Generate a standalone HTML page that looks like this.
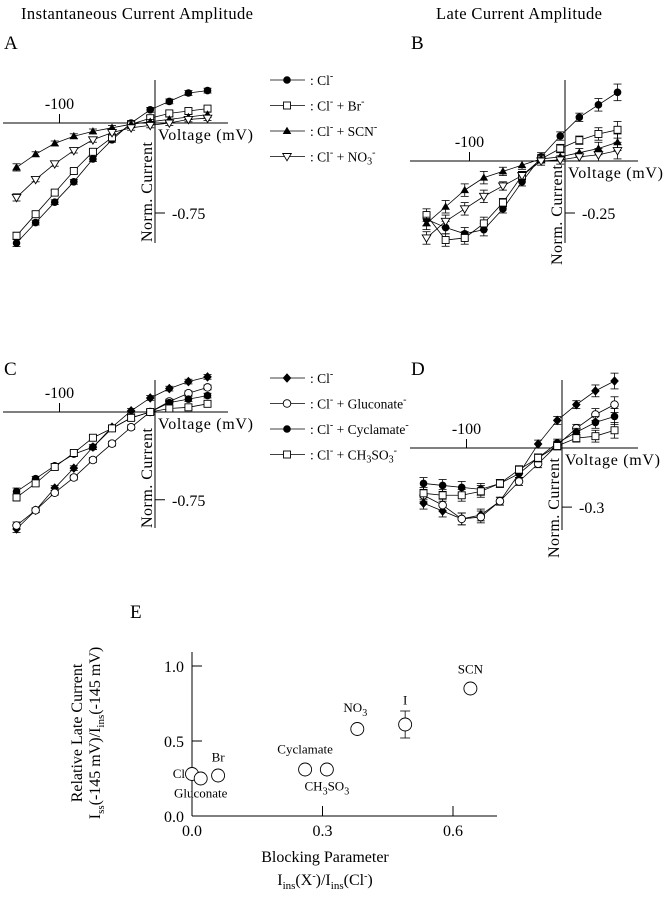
<!DOCTYPE html>
<html><head><meta charset="utf-8">
<style>
html,body{margin:0;padding:0;background:#fff;}
svg{display:block;}
svg text{font-family:"Liberation Serif","Times New Roman",serif;}
</style></head>
<body>
<svg id="fig" width="663" height="900" viewBox="0 0 663 900" xmlns="http://www.w3.org/2000/svg" font-family="Liberation Serif, serif">
<text x="21" y="19" font-size="16.5" textLength="232">Instantaneous Current Amplitude</text>
<text x="436" y="19" font-size="16.5" textLength="166">Late Current Amplitude</text>
<text x="4" y="49" font-size="19">A</text>
<text x="411" y="49" font-size="19">B</text>
<text x="4" y="375" font-size="19">C</text>
<text x="411" y="375" font-size="19">D</text>
<text x="130" y="618" font-size="19">E</text>
</svg>
<script>
var NS="http://www.w3.org/2000/svg";
var svg=document.getElementById('fig');
// ---- data ----
var voltages=[-145,-125,-105,-85,-65,-45,-25,-5,15,35,55];
var aCl=[-1.0,-0.83,-0.66,-0.49,-0.30,-0.14,0.0,0.11,0.18,0.25,0.27];
var aBr=[-0.94,-0.76,-0.58,-0.40,-0.24,-0.12,-0.01,0.04,0.08,0.10,0.12];
var aSCN=[-0.37,-0.26,-0.17,-0.11,-0.07,-0.04,-0.01,0.01,0.03,0.05,0.07];
var aNO3=[-0.62,-0.47,-0.34,-0.23,-0.14,-0.08,-0.04,-0.02,0.0,0.03,0.04];
var bCl=[-0.28,-0.32,-0.35,-0.33,-0.23,-0.10,0.02,0.12,0.21,0.27,0.33];
var bBr=[-0.26,-0.38,-0.37,-0.30,-0.20,-0.07,0.01,0.06,0.10,0.13,0.15];
var bSCN=[-0.30,-0.22,-0.14,-0.08,-0.05,-0.02,0.01,0.02,0.04,0.06,0.09];
var bNO3=[-0.37,-0.29,-0.23,-0.17,-0.12,-0.07,0.0,0.005,0.02,0.03,0.05];
var cCl=[-1.0,-0.84,-0.65,-0.48,-0.30,-0.13,0.01,0.12,0.20,0.26,0.30];
var cGluc=[-0.97,-0.84,-0.69,-0.56,-0.41,-0.27,-0.13,0.0,0.09,0.16,0.21];
var cCycl=[-0.68,-0.57,-0.46,-0.36,-0.30,-0.14,-0.05,0.0,0.08,0.11,0.14];
var cMes=[-0.73,-0.61,-0.47,-0.35,-0.22,-0.14,-0.05,0.0,0.03,0.04,0.07];
var dCl=[-0.28,-0.32,-0.36,-0.34,-0.27,-0.13,0.02,0.14,0.22,0.29,0.34];
var dGluc=[-0.24,-0.29,-0.36,-0.35,-0.27,-0.17,-0.08,0.015,0.10,0.17,0.22];
var dCycl=[-0.18,-0.19,-0.20,-0.21,-0.18,-0.13,-0.05,0.025,0.08,0.13,0.16];
var dMes=[-0.23,-0.24,-0.24,-0.22,-0.18,-0.11,-0.05,0.01,0.05,0.06,0.09];
var errA=[0.03,0.02,0.02,0.02,0.02,0.02,0.02,0.02,0.02,0.02,0.02];
var errB=[0.03,0.03,0.03,0.03,0.02,0.02,0.02,0.02,0.02,0.03,0.04];
var eNames=["Cl","Gluconate","Br","Cyclamate","CH3SO3","NO3","I","SCN"];
var eBlock=[0.0,0.02,0.06,0.26,0.31,0.38,0.49,0.64];
var eRel=[0.28,0.25,0.27,0.31,0.31,0.58,0.61,0.85];
var eErr=[0.0,0.0,0.03,0.0,0.0,0.02,0.09,0.0];
var eYTicks=[0.0,0.5,1.0];
var eXTicks=[0.0,0.3,0.6];

var FF='Liberation Serif, Times New Roman, serif';
function el(tag,attrs,parent){var e=document.createElementNS(NS,tag);for(var k in attrs)e.setAttribute(k,attrs[k]);if(tag==='text')e.setAttribute('font-family',FF);(parent||svg).appendChild(e);return e;}
function marker(g,kind,x,y){
  var m;
  if(kind==='fcircle') m=el('circle',{cx:x,cy:y,r:3.8,fill:'#000'},g);
  else if(kind==='ocircle') m=el('circle',{cx:x,cy:y,r:3.8,fill:'#fff',stroke:'#000','stroke-width':0.9},g);
  else if(kind==='osquare') m=el('rect',{x:x-3.5,y:y-3.5,width:7,height:7,fill:'#fff',stroke:'#000','stroke-width':0.9},g);
  else if(kind==='ftri') m=el('polygon',{points:(x-4.3)+','+(y+3)+' '+(x+4.3)+','+(y+3)+' '+x+','+(y-4.3),fill:'#000'},g);
  else if(kind==='otri') m=el('polygon',{points:(x-4.3)+','+(y-3)+' '+(x+4.3)+','+(y-3)+' '+x+','+(y+4.3),fill:'#fff',stroke:'#000','stroke-width':0.9},g);
  else m=el('polygon',{points:x+','+(y-4.8)+' '+(x+4.3)+','+y+' '+x+','+(y+4.8)+' '+(x-4.3)+','+y,fill:'#000'},g);
  
  
}
function panel(p){
  var g=el('g',{});
  
  
  function sx(v){return p.x0+v*p.pxmv;}
  function sy(v){return p.y0-v*p.pxu;}
  var xa=el('line',{x1:p.xl,y1:p.y0,x2:p.xr,y2:p.y0,stroke:'#000','stroke-width':1},g);
  
  var ya=el('line',{x1:p.x0,y1:p.yt,x2:p.x0,y2:p.yb,stroke:'#000','stroke-width':1},g);
  
  el('line',{x1:sx(-100),y1:p.y0,x2:sx(-100),y2:p.y0-9,stroke:'#000'},g);
  el('line',{x1:p.x0,y1:sy(p.ytick),x2:p.x0+10,y2:sy(p.ytick),stroke:'#000'},g);
  var t=el('text',{x:sx(-100),y:p.y0-14,'font-size':16,'text-anchor':'middle'},g);t.textContent='-100';
  
  t=el('text',{x:p.x0+17,y:sy(p.ytick)+6,'font-size':16},g);t.textContent=p.ytickLabel;
  
  t=el('text',{x:p.x0+3,y:p.y0+17,'font-size':16,textLength:95},g);t.textContent='Voltage (mV)';
  
  t=el('text',{x:0,y:0,'font-size':16,'text-anchor':'middle',textLength:100,transform:'translate('+(p.x0-3)+','+p.ylabY+') rotate(-90)'},g);t.textContent='Norm. Current';
  
  p.series.forEach(function(s){
    var pts=voltages.map(function(v,i){return sx(v)+','+sy(s.data[i]);}).join(' ');
    var pl=el('polyline',{points:pts,fill:'none',stroke:'#000','stroke-width':0.8},g);
    
    voltages.forEach(function(v,i){
      var e=s.err[i],x=sx(v);
      el('line',{x1:x,y1:sy(s.data[i]+e),x2:x,y2:sy(s.data[i]-e),stroke:'#000','stroke-width':0.8},g);
      el('line',{x1:x-4,y1:sy(s.data[i]+e),x2:x+4,y2:sy(s.data[i]+e),stroke:'#000','stroke-width':0.8},g);
      el('line',{x1:x-4,y1:sy(s.data[i]-e),x2:x+4,y2:sy(s.data[i]-e),stroke:'#000','stroke-width':0.8},g);
    });
    voltages.forEach(function(v,i){marker(g,s.kind,sx(v),sy(s.data[i]));});
  });
}
panel({name:'panel-a',x0:155,y0:123,pxmv:0.955,pxu:120,xl:3,xr:228,yt:80,yb:243,ytick:-0.75,ytickLabel:'-0.75',ylabY:192,
 series:[{key:'cl',data:aCl,err:errA,kind:'fcircle'},{key:'br',data:aBr,err:errA,kind:'osquare'},{key:'scn',data:aSCN,err:errA,kind:'ftri'},{key:'no3',data:aNO3,err:errA,kind:'otri'}]});
panel({name:'panel-b',x0:565,y0:161,pxmv:0.955,pxu:208,xl:410,xr:638,yt:80,yb:243,ytick:-0.25,ytickLabel:'-0.25',ylabY:215,
 series:[{key:'cl',data:bCl,err:errB,kind:'fcircle'},{key:'br',data:bBr,err:errB,kind:'osquare'},{key:'scn',data:bSCN,err:errB,kind:'ftri'},{key:'no3',data:bNO3,err:errB,kind:'otri'}]});
panel({name:'panel-c',x0:155,y0:412,pxmv:0.955,pxu:117,xl:3,xr:228,yt:380,yb:528,ytick:-0.75,ytickLabel:'-0.75',ylabY:478,
 series:[{key:'cl',data:cCl,err:errA,kind:'diamond'},{key:'gluconate',data:cGluc,err:errA,kind:'ocircle'},{key:'cyclamate',data:cCycl,err:errA,kind:'fcircle'},{key:'ch3so3',data:cMes,err:errA,kind:'osquare'}]});
panel({name:'panel-d',x0:562,y0:448,pxmv:0.955,pxu:197,xl:410,xr:638,yt:380,yb:530,ytick:-0.3,ytickLabel:'-0.3',ylabY:508,
 series:[{key:'cl',data:dCl,err:errB,kind:'diamond'},{key:'gluconate',data:dGluc,err:errB,kind:'ocircle'},{key:'cyclamate',data:dCycl,err:errB,kind:'fcircle'},{key:'ch3so3',data:dMes,err:errB,kind:'osquare'}]});

function legend(name,y0,items){
  var g=el('g',{});
  
  
  items.forEach(function(it,i){
    var y=y0+i*25.5;
    el('line',{x1:270,y1:y,x2:305,y2:y,stroke:'#000','stroke-width':0.8},g);
    marker(g,it.kind,287,y);
    var t=el('text',{x:310,y:y+5,'font-size':13.5},g);
    t.innerHTML=it.html;
    
    
  });
}
var sup='<tspan dy="-6" font-size="10">-</tspan><tspan dy="6"> </tspan>';
legend('legend-ab',80,[{kind:'fcircle',html:': Cl'+sup},{kind:'osquare',html:': Cl'+sup+'+ Br'+sup},{kind:'ftri',html:': Cl'+sup+'+ SCN'+sup},{kind:'otri',html:': Cl'+sup+'+ NO<tspan dy="3" font-size="10">3</tspan><tspan dy="-9" font-size="10">-</tspan>'}]);
legend('legend-cd',378,[{kind:'diamond',html:': Cl'+sup},{kind:'ocircle',html:': Cl'+sup+'+ Gluconate'+sup},{kind:'fcircle',html:': Cl'+sup+'+ Cyclamate'+sup},{kind:'osquare',html:': Cl'+sup+'+ CH<tspan dy="3" font-size="10">3</tspan><tspan dy="-3">SO</tspan><tspan dy="3" font-size="10">3</tspan><tspan dy="-9" font-size="10">-</tspan>'}]);

// ---- panel E ----
(function(){
  var g=el('g',{});
  
  
  var X0=192,Y0=816,PX=435,PY=150;
  function sx(v){return X0+v*PX;} function sy(v){return Y0-v*PY;}
  var xa=el('line',{x1:X0,y1:Y0,x2:497,y2:Y0,stroke:'#000'},g);
  
  var ya=el('line',{x1:X0,y1:Y0,x2:X0,y2:652,stroke:'#000'},g);
  
  eYTicks.forEach(function(v){
    el('line',{x1:X0,y1:sy(v),x2:X0+10,y2:sy(v),stroke:'#000'},g);
    var t=el('text',{x:X0-8,y:sy(v)+6,'font-size':16,'text-anchor':'end'},g);t.textContent=v.toFixed(1);
    
  });
  eXTicks.forEach(function(v){
    if(v>0) el('line',{x1:sx(v),y1:Y0,x2:sx(v),y2:Y0-10,stroke:'#000'},g);
    var t=el('text',{x:sx(v),y:Y0+20,'font-size':16,'text-anchor':'middle'},g);t.textContent=v.toFixed(1);
    
  });
  var t=el('text',{x:0,y:0,'font-size':16,'text-anchor':'middle',transform:'translate(82,733) rotate(-90)'},g);t.textContent='Relative Late Current';
  
  t=el('text',{x:0,y:0,'font-size':16,'text-anchor':'middle',transform:'translate(100,733) rotate(-90)'},g);
  t.innerHTML='I<tspan dy="4" font-size="11">ss</tspan><tspan dy="-4">(-145 mV)/I</tspan><tspan dy="4" font-size="11">ins</tspan><tspan dy="-4">(-145 mV)</tspan>';
  
  t=el('text',{x:325,y:862,'font-size':16,'text-anchor':'middle'},g);t.textContent='Blocking Parameter';
  
  t=el('text',{x:325,y:885,'font-size':16,'text-anchor':'middle'},g);
  t.innerHTML='I<tspan dy="4" font-size="11">ins</tspan><tspan dy="-4">(X</tspan><tspan dy="-6" font-size="10">-</tspan><tspan dy="6">)/I</tspan><tspan dy="4" font-size="11">ins</tspan><tspan dy="-4">(Cl</tspan><tspan dy="-6" font-size="10">-</tspan><tspan dy="6">)</tspan>';
  
  var labelOff={Cl:[-16,4,'end'],Gluconate:[0,19,'middle'],Br:[0,-14,'middle'],Cyclamate:[0,-16,'middle'],CH3SO3:[0,21,'middle'],NO3:[-2,-17,'middle'],I:[0,-20,'middle'],SCN:[0,-15,'middle']};
  eNames.forEach(function(n,i){
    var x=sx(eBlock[i]),y=sy(eRel[i]),e=eErr[i];
    if(e>0){
      el('line',{x1:x,y1:sy(eRel[i]+e),x2:x,y2:sy(eRel[i]-e),stroke:'#000','stroke-width':0.8},g);
      el('line',{x1:x-5,y1:sy(eRel[i]+e),x2:x+5,y2:sy(eRel[i]+e),stroke:'#000','stroke-width':0.8},g);
      el('line',{x1:x-5,y1:sy(eRel[i]-e),x2:x+5,y2:sy(eRel[i]-e),stroke:'#000','stroke-width':0.8},g);
    }
    var c=el('circle',{cx:x,cy:y,r:6.5,fill:'#fff',stroke:'#000','stroke-width':0.9},g);
    
    
    var o=labelOff[n];
    var tl=el('text',{x:x+o[0]+(n==='Cl'?9:0),y:y+o[1],'font-size':13,'text-anchor':o[2]},g);
    if(n==='NO3') tl.innerHTML='NO<tspan dy="4" font-size="10">3</tspan>';
    else if(n==='CH3SO3') tl.innerHTML='CH<tspan dy="4" font-size="10">3</tspan><tspan dy="-4">SO</tspan><tspan dy="4" font-size="10">3</tspan>';
    else tl.textContent=n;
    
    
  });
})();
</script>
</body></html>
